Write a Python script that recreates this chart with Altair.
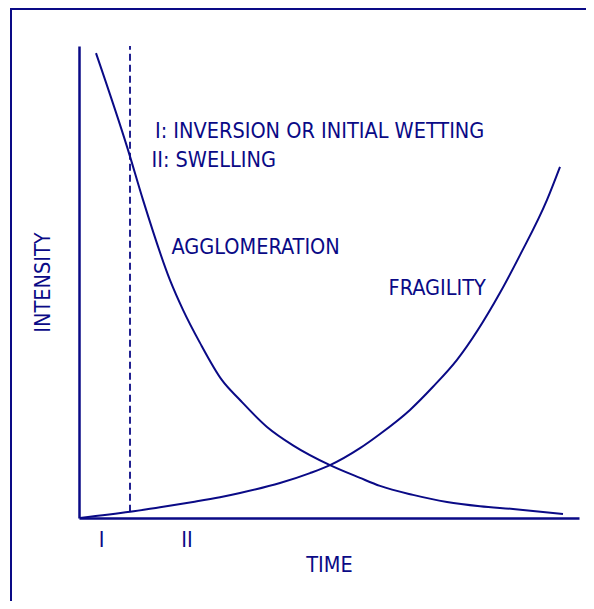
import altair as alt
import pandas as pd

NAVY = "#0a0a86"
FONT = "DejaVu Sans Condensed, Liberation Sans, sans-serif"
FS = 21.5

# Agglomeration curve (time, intensity)
agg_t = [3.4, 9.8, 12.8, 18.2, 20.8, 24.2, 28.6, 32.2, 37.6, 42.8,
         50.2, 56.2, 60.2, 66.8, 73.6, 80.2, 86.8, 96.8]
agg_v = [98.5, 78.0, 67.4, 50.4, 44.1, 37.1, 29.2, 25.0, 19.3, 15.4,
         11.2, 8.5, 6.8, 4.9, 3.4, 2.5, 1.9, 0.85]

# Fragility curve
frag_t = [0.2, 10.2, 16.2, 22.8, 28.2, 32.2, 40.2, 46.2, 50.2, 56.2, 60.2, 66.2,
          70.8, 75.6, 84.2, 88.2, 93.6, 96.2]
frag_v = [0.0, 1.3, 2.3, 3.4, 4.4, 5.3, 7.4, 9.5, 11.2, 14.8, 17.8, 22.9,
          27.8, 33.5, 47.7, 55.7, 67.4, 74.4]

# Boundary between stage I and II (dashed)
bound_t = [10.2, 10.2]
bound_v = [1.3, 100.0]

# Stage tick labels on the time axis
stage_pos = [4.4, 21.5]
stage_lab = ["I", "II"]

# Annotations
ann_text = ["I: INVERSION OR INITIAL WETTING", "II: SWELLING", "AGGLOMERATION", "FRAGILITY"]
ann_t = [15.2, 14.5, 18.5, 61.9]
ann_v = [81.8, 75.7, 57.3, 48.5]

xs = alt.Scale(domain=[0, 100], nice=False, zero=False)
ys = alt.Scale(domain=[0, 100], nice=False, zero=False)

label_expr = "datum.value < 10 ? '" + stage_lab[0] + "' : '" + stage_lab[1] + "'"

x_axis = alt.Axis(values=stage_pos, labelExpr=label_expr, ticks=False, tickSize=0,
                  grid=False, domainColor=NAVY, domainWidth=2.5, labelColor=NAVY,
                  labelFont=FONT, labelFontSize=FS, labelPadding=11,
                  title="TIME", titleFont=FONT, titleFontSize=FS, titleFontWeight="normal",
                  titleColor=NAVY, titlePadding=4)
y_axis = alt.Axis(labels=False, ticks=False, tickSize=0, grid=False,
                  domainColor=NAVY, domainWidth=2.5,
                  title="INTENSITY", titleFont=FONT, titleFontSize=FS,
                  titleFontWeight="normal", titleColor=NAVY, titlePadding=25)

agg_df = pd.DataFrame({"t": agg_t, "v": agg_v})
frag_df = pd.DataFrame({"t": frag_t, "v": frag_v})
bound_df = pd.DataFrame({"t": bound_t, "v": bound_v})
ann_df = pd.DataFrame({"text": ann_text, "t": ann_t, "v": ann_v})

base_axes = alt.Chart(agg_df).mark_line(strokeWidth=0, opacity=0).encode(
    x=alt.X("t:Q", scale=xs, axis=x_axis),
    y=alt.Y("v:Q", scale=ys, axis=y_axis),
)

agg_line = alt.Chart(agg_df).mark_line(color=NAVY, strokeWidth=2, interpolate="monotone").encode(
    x=alt.X("t:Q", scale=xs), y=alt.Y("v:Q", scale=ys))
frag_line = alt.Chart(frag_df).mark_line(color=NAVY, strokeWidth=2, interpolate="monotone").encode(
    x=alt.X("t:Q", scale=xs), y=alt.Y("v:Q", scale=ys))
bound_line = alt.Chart(bound_df).mark_line(color=NAVY, strokeWidth=1.8, strokeDash=[7, 4]).encode(
    x=alt.X("t:Q", scale=xs), y=alt.Y("v:Q", scale=ys))

ann = alt.Chart(ann_df).mark_text(align="left", baseline="middle", font=FONT,
                                  fontSize=FS, color=NAVY).encode(
    x=alt.X("t:Q", scale=xs), y=alt.Y("v:Q", scale=ys), text="text:N")

# Outer frame (left and top edges of the figure border)
frame_left = alt.Chart(agg_df).mark_rule(color=NAVY, strokeWidth=2).encode(
    x=alt.value(-68), y=alt.value(-38), y2=alt.value(560))
frame_top = alt.Chart(agg_df).mark_rule(color=NAVY, strokeWidth=2).encode(
    x=alt.value(-69), x2=alt.value(510), y=alt.value(-37))

chart = alt.layer(base_axes, agg_line, frag_line, bound_line, ann, frame_left, frame_top).properties(
    width=500, height=472,
    autosize=alt.AutoSizeParams(type="none"),
    padding={"left": 71, "top": 38, "right": 7, "bottom": 83},
).configure_view(stroke=None)

chart.save("out.html", embed_options={"renderer": "svg", "actions": False})
